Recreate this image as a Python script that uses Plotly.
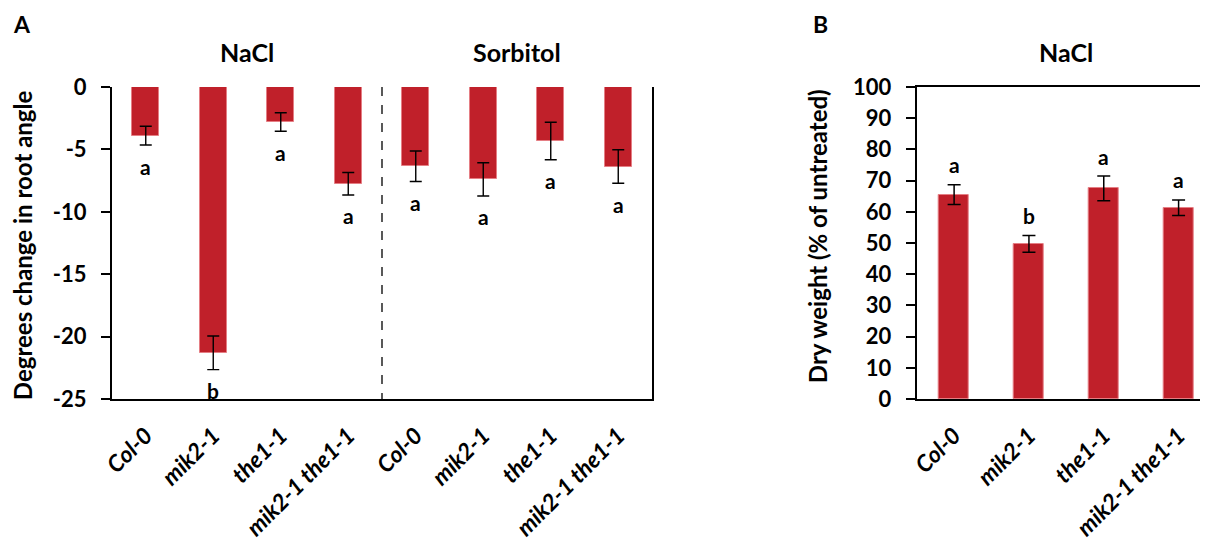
import plotly.graph_objects as go

# ---- data ----
genotypes = ["Col-0", "mik2-1", "the1-1", "mik2-1 the1-1"]
treatments_a = ["NaCl", "Sorbitol"]
angle_nacl = [-3.9, -21.3, -2.8, -7.75]
angle_nacl_err = [0.75, 1.35, 0.74, 0.9]
angle_sorb = [-6.35, -7.4, -4.33, -6.37]
angle_sorb_err = [1.22, 1.33, 1.5, 1.34]
letters_nacl = ["a", "b", "a", "a"]
letters_sorb = ["a", "a", "a", "a"]

dry_weight = [65.5, 49.7, 67.5, 61.3]
dry_weight_err = [3.15, 2.7, 3.95, 2.5]
letters_dw = ["a", "b", "a", "a"]

ticks_a = [0, -5, -10, -15, -20, -25]
ticks_a_text = ["0", "-5", "-10", "-15", "-20", "-25"]
ticks_b = [0, 10, 20, 30, 40, 50, 60, 70, 80, 90, 100]

FONT = "Lato"
RED = "#C0202A"
EDGE = "#E57E84"

angle_vals = angle_nacl + angle_sorb
angle_errs = angle_nacl_err + angle_sorb_err
angle_letters = letters_nacl + letters_sorb
xa = list(range(len(angle_vals)))
xa_labels = [f"<i>{g}</i>" for g in genotypes * 2]
xb = list(range(len(dry_weight)))
xb_labels = [f"<i>{g}</i>" for g in genotypes]

W, H = 1208, 539
OFF = 8  # page body margin offset
TOP = 87 - OFF
BOT = H - (398.7 - OFF)
PH = H - TOP - BOT


def py(px):
    """screen pixel row -> paper y"""
    return 1 + (TOP - (px - OFF)) / PH


def px_(x):
    """screen pixel column -> paper x"""
    return (x - OFF) / W


fig = go.Figure()
fig.add_trace(go.Bar(
    x=xa, y=angle_vals, width=0.4, xaxis="x", yaxis="y",
    marker=dict(color=RED, line=dict(color=EDGE, width=1)),
    error_y=dict(type="data", array=angle_errs, color="black", thickness=1.4, width=6),
    showlegend=False,
))
fig.add_trace(go.Bar(
    x=xb, y=dry_weight, width=0.4, xaxis="x2", yaxis="y2",
    marker=dict(color=RED, line=dict(color=EDGE, width=1)),
    error_y=dict(type="data", array=dry_weight_err, color="black", thickness=1.5, width=6.5),
    showlegend=False,
))

tickfont = dict(family=FONT, size=22, color="black", weight="bold")
xtickfont = dict(family=FONT, size=23, color="black", weight="bold")
dA = [px_(112), px_(652)]
dB = [px_(916.7), 1.0]

fig.update_layout(
    width=W, height=H,
    margin=dict(l=0, r=0, t=TOP, b=BOT, autoexpand=False),
    paper_bgcolor="white", plot_bgcolor="white",
    font=dict(family=FONT, color="black"),
    bargap=0,
    xaxis=dict(domain=dA, anchor="y", range=[-0.5, 7.5], tickmode="array",
               tickvals=xa, ticktext=xa_labels, tickangle=-45, ticks="",
               showline=True, linecolor="black", linewidth=2, showgrid=False,
               zeroline=False, tickfont=xtickfont, automargin=False,
               ticklabelstandoff=12),
    xaxis3=dict(overlaying="x", anchor="y", side="top", range=[-0.5, 7.5],
                tickmode="array", tickvals=[i + 0.5 for i in xa[:-1]],
                ticks="inside", ticklen=7, tickwidth=1.5, tickcolor="black",
                showticklabels=False, showline=True, linecolor="black",
                linewidth=2, showgrid=False, zeroline=False, automargin=False),
    yaxis=dict(domain=[0, 1], anchor="x", range=[-25, 0], tickmode="array",
               tickvals=ticks_a, ticktext=ticks_a_text, ticks="outside", ticklen=9,
               tickwidth=1.5, tickcolor="black", showline=True, linecolor="black",
               linewidth=2, mirror=True, showgrid=False, zeroline=False,
               tickfont=tickfont, ticklabelstandoff=10, automargin=False),
    xaxis2=dict(domain=dB, anchor="y2", range=[-0.5, 3.5], tickmode="array",
                tickvals=xb, ticktext=xb_labels, tickangle=-45, ticks="",
                showline=True, linecolor="black", linewidth=2, mirror=True,
                showgrid=False, zeroline=False, tickfont=xtickfont,
                automargin=False, ticklabelstandoff=12),
    xaxis4=dict(overlaying="x2", anchor="y2", side="bottom", range=[-0.5, 3.5],
                tickmode="array", tickvals=[i - 0.5 for i in xb],
                ticks="outside", ticklen=8, tickwidth=1.5, tickcolor="black",
                showticklabels=False, showline=False, showgrid=False,
                zeroline=False, automargin=False),
    yaxis2=dict(domain=[0, 1], anchor="x2", range=[0, 100], tickmode="array",
                tickvals=ticks_b, ticks="outside", ticklen=9, tickwidth=1.5,
                tickcolor="black", showline=True, linecolor="black", linewidth=2,
                mirror=True, showgrid=False, zeroline=False, tickfont=tickfont,
                ticklabelstandoff=10, automargin=False),
)

# divider between treatment groups
fig.add_shape(type="line", xref="x", yref="y", x0=3.5, x1=3.5, y0=0, y1=-25.3,
              line=dict(color="black", width=1.3, dash="dash"))

# axis titles
ytitle_font = dict(family=FONT, size=24, weight="bold")
fig.add_annotation(x=px_(22), y=py(245), xref="paper", yref="paper",
                   text="Degrees change in root angle", textangle=-90,
                   showarrow=False, xanchor="center", yanchor="middle",
                   font=ytitle_font)
fig.add_annotation(x=px_(817), y=py(236), xref="paper", yref="paper",
                   text="Dry weight (% of untreated)", textangle=-90,
                   showarrow=False, xanchor="center", yanchor="middle",
                   font=ytitle_font)

letter_font = dict(family=FONT, size=21, weight="bold")
# significance letters
for x, v, e, t in zip(xa, angle_vals, angle_errs, angle_letters):
    fig.add_annotation(x=x, y=v - e, xref="x", yref="y", text=t,
                       showarrow=False, yanchor="middle", yshift=-21,
                       font=letter_font)
for x, v, e, t in zip(xb, dry_weight, dry_weight_err, letters_dw):
    fig.add_annotation(x=x, y=v + e, xref="x2", yref="y2", text=t,
                       showarrow=False, yanchor="middle", yshift=20,
                       font=letter_font)

title_font = dict(family=FONT, size=25, weight="bold")
# group titles
fig.add_annotation(x=1.5, y=py(52), xref="x", yref="paper", text=treatments_a[0],
                   showarrow=False, yanchor="middle", font=title_font)
fig.add_annotation(x=5.5, y=py(52), xref="x", yref="paper", text=treatments_a[1],
                   showarrow=False, yanchor="middle", font=title_font)
fig.add_annotation(x=1.5, y=py(52), xref="x2", yref="paper", text="NaCl",
                   showarrow=False, yanchor="middle", font=title_font)

# panel letters
fig.add_annotation(x=px_(22), y=py(24), xref="paper", yref="paper",
                   yanchor="middle", xanchor="center", text="A",
                   showarrow=False, font=dict(family=FONT, size=23, weight="bold"))
fig.add_annotation(x=px_(820), y=py(24), xref="paper", yref="paper",
                   yanchor="middle", xanchor="center", text="B",
                   showarrow=False, font=dict(family=FONT, size=23, weight="bold"))

fig.write_html("out.html")
